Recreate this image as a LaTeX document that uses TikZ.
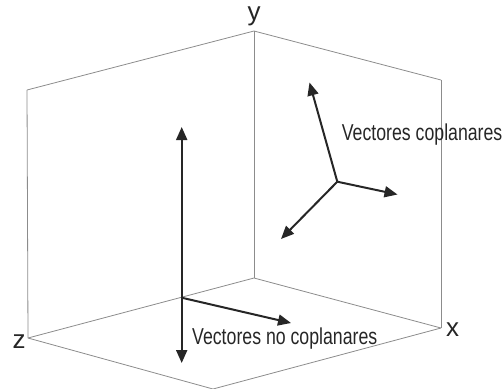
\documentclass[tikz,border=0pt]{standalone}
\usepackage{fontspec}
\setmainfont{Liberation Sans}
\newfontfamily\narrowfont[FakeStretch=0.77]{Liberation Sans}
\usepackage{tikz}
\usetikzlibrary{arrows.meta}
\definecolor{edgegray}{HTML}{8C8C8C}
\definecolor{inkdark}{HTML}{262626}
\tikzset{%
      >={Triangle[width=11bp,length=13bp]},
}
\tikzstyle{edge} = [draw=edgegray, line width=0.8bp]
\tikzstyle{vec} = [draw=inkdark, line width=2bp, ->]
\tikzstyle{axis} = [inner sep=0pt, text=inkdark, font=\fontsize{26bp}{30bp}\selectfont]
\tikzstyle{caption} = [inner sep=0pt, text=inkdark, anchor=base west,
    font=\narrowfont\fontsize{23bp}{27bp}\selectfont]

\begin{document}
\begin{tikzpicture}[x=1bp, y=-1bp]
    \useasboundingbox (0,0) rectangle (504,388);

    % corners of the box
    \coordinate (top) at (254,31);
    \coordinate (topleft) at (27,90);
    \coordinate (topright) at (441,80);
    \coordinate (origin) at (254,278);
    \coordinate (zend) at (28,338);
    \coordinate (xend) at (441,328);
    \coordinate (front) at (213,389);

    \path [edge] (topleft) -- (top) -- (topright);
    \path [edge] (top) -- (origin);
    \path [edge] (topleft) -- (zend);
    \path [edge] (topright) -- (xend);
    \path [edge] (zend) -- (origin) -- (xend);
    \path [edge] (zend) -- (front) -- (xend);

    \node[axis, anchor=base] (ylabel) at (254,20.5) {y};
    \node[axis, anchor=base] (zlabel) at (19,348) {z};
    \node[axis, anchor=base] (xlabel) at (452.5,336.7) {x};

    % non coplanar vectors
    \coordinate (ntop) at (181.7,127);
    \coordinate (nbottom) at (181.7,363);
    \coordinate (nbase) at (181.7,297.7);
    \coordinate (nright) at (291,323);
    \path [vec, <->] (ntop) -- (nbottom);
    \path [vec] (nbase) -- (nright);
    \node[caption] (nocop) at (192,344.5) {Vectores no coplanares};

    % coplanar vectors
    \coordinate (cbase) at (337.3,181.7);
    \coordinate (cup) at (309.5,82.5);
    \coordinate (cright) at (397.5,194.5);
    \coordinate (cleft) at (281,239);
    \path [vec] (cbase) -- (cup);
    \path [vec] (cbase) -- (cright);
    \path [vec] (cbase) -- (cleft);
    \node[caption] (cop) at (341.7,140.7) {Vectores coplanares};
\end{tikzpicture}
\end{document}
